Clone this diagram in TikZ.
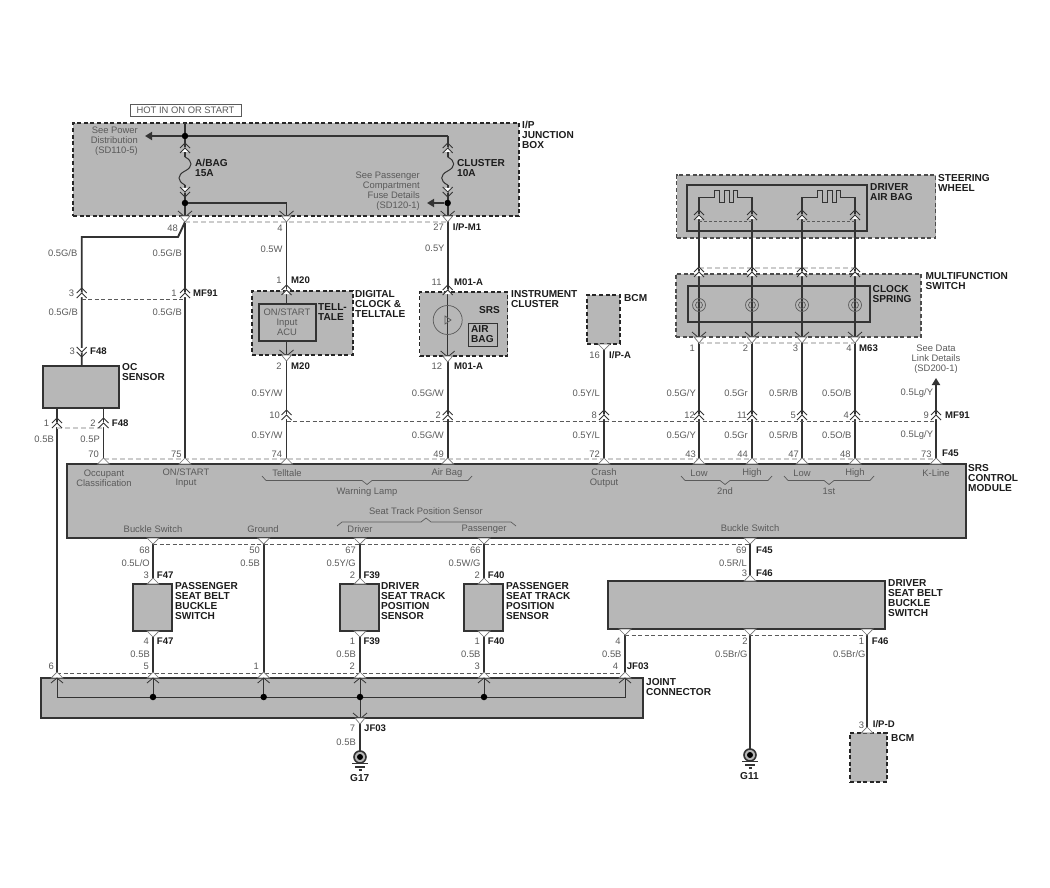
\documentclass[tikz,border=0pt]{standalone}
\usepackage{fontspec}
\setmainfont{Liberation Sans}
\usetikzlibrary{arrows.meta}
\definecolor{unitgrey}{HTML}{B7B7B7}
\definecolor{wiregrey}{HTML}{333333}
\definecolor{textgrey}{HTML}{5A5A5A}
\definecolor{textdark}{HTML}{1C1C1C}
\tikzset{
  wire/.style={draw=wiregrey, line width=1.9pt},
  thinwire/.style={draw=wiregrey, line width=1pt},
  finewire/.style={draw=textgrey, line width=.7pt},
  powerarrow/.style={wire, -{Triangle[length=7pt,width=8pt]}},
  pinlink/.style={draw=textgrey, line width=.9pt, dash pattern=on 4pt off 2.5pt},
  pinshade/.style={draw=black!20, line width=1.8pt, dash pattern=on 5pt off 3pt},
  pinline/.style={draw=wiregrey, line width=.8pt},
  pintab/.style={draw=black!55, fill=white, line width=.7pt},
  unit/.style={draw=wiregrey, fill=unitgrey, line width=1.7pt, inner sep=0pt},
  dashunit/.style={unit, draw=black!85, dash pattern=on 4pt off 2.6pt},
  innerunit/.style={draw=wiregrey, line width=1.5pt, inner sep=0pt},
  splice/.style={circle, fill=black, minimum size=6.5pt, inner sep=0pt},
  plain/.style={inner sep=0pt, text=textgrey, font=\fontsize{9.4}{10}\selectfont},
  rightlabel/.style={plain, anchor=east},
  blocktext/.style={plain, align=center},
  tag/.style={inner sep=0pt, anchor=west, text=textdark, font=\fontsize{9.6}{10}\bfseries\selectfont},
  unitname/.style={inner sep=0pt, anchor=north west, align=left, text=textdark,
    font=\fontsize{10.1}{10.2}\bfseries\selectfont},
  pinup/.pic={
    \fill[white] (-4,4)--(0,-1)--(4,4)--cycle;
    \draw[pinline] (-5,0)--(0,-5)--(5,0);
    \draw[pinline] (-5,5)--(0,0)--(5,5);
  },
  pindown/.pic={
    \fill[white] (-4,-4)--(0,1)--(4,-4)--cycle;
    \draw[pinline] (-5,0)--(0,5)--(5,0);
    \draw[pinline] (-5,-5)--(0,0)--(5,-5);
  },
  socketdown/.pic={
    \draw[pinline] (-7,-5)--(0,1)--(7,-5);
    \draw[pintab] (-5,0)--(5,0)--(0,6)--cycle;
  },
  tabup/.pic={\draw[pintab] (-6,0)--(0,-6)--(6,0)--cycle;},
  tabdown/.pic={\draw[pintab] (-6,0)--(0,6)--(6,0)--cycle;},
  jointpin/.pic={
    \draw[pintab] (-6,0)--(0,-6)--(6,0)--cycle;
    \draw[pinline] (-6,5)--(0,0)--(6,5);
  },
  fuselink/.pic={
    \draw[thinwire] (0,0) .. controls (8,4) and (8,10) .. (0,14) .. controls (-8,18) and (-8,24) .. (0,28);
  },
  squib/.pic={
    \draw[thinwire] (0,0)--(15,0)--(15,-6)--(20,-6)--(20,5)--(25,5)--(25,-6)--(30,-6)--(30,5)--(34,5)--(34,-6)--(38,-6)--(38,0)--(53,0);
  },
  groundmark/.pic={
    \draw[draw=wiregrey, fill=unitgrey, line width=1.6pt] (0,0) circle (6);
    \fill[black] (0,0) circle (3);
    \draw[wiregrey, line width=1.2pt] (-8,6.5)--(8,6.5) (-5,10)--(5,10) (-1.5,13)--(1.5,13);
  }
}
\begin{document}
\begin{tikzpicture}[x=1pt, y=-1pt]
  \useasboundingbox (0,0) rectangle (1050,888);

  \node[draw=textgrey, line width=.8pt, minimum width=111pt, minimum height=12pt, plain] (hotbox) at (185.5,110) {HOT IN ON OR START};
  \node[dashunit, minimum width=446pt, minimum height=93pt] (ipbox) at (296,169.5) {};
  \node[dashunit, minimum width=259pt, minimum height=63pt, draw=black!70] (wheelbox) at (806,206.5) {};
  \node[innerunit, minimum width=180pt, minimum height=46pt] (airbagbox) at (777,208) {};
  \node[dashunit, minimum width=245pt, minimum height=63pt, draw=black!70] (multibox) at (798.5,305.5) {};
  \node[innerunit, minimum width=182pt, minimum height=36pt] (springbox) at (779,304) {};
  \node[dashunit, minimum width=101pt, minimum height=64pt] (clockbox) at (302.5,323) {};
  \node[innerunit, minimum width=57pt, minimum height=37pt] (telltalebox) at (287.5,322.5) {};
  \node[dashunit, minimum width=88pt, minimum height=64pt] (clusterbox) at (463.5,324) {};
  \node[draw=wiregrey, line width=.8pt, minimum width=29pt, minimum height=23pt, inner sep=0pt] (airbagflag) at (482.5,334.5) {};
  \node[dashunit, minimum width=33pt, minimum height=49pt] (bcmbox) at (603.5,319.5) {};
  \node[unit, minimum width=76pt, minimum height=42pt] (ocbox) at (81,387) {};
  \node[unit, minimum width=899pt, minimum height=74pt] (srsbox) at (516.5,501) {};
  \node[unit, minimum width=39pt, minimum height=47pt] (beltpbox) at (152.5,607.5) {};
  \node[unit, minimum width=39pt, minimum height=47pt] (trackdbox) at (359.5,607.5) {};
  \node[unit, minimum width=39pt, minimum height=47pt] (trackpbox) at (483.5,607.5) {};
  \node[unit, minimum width=277pt, minimum height=48pt] (beltdbox) at (746.5,605) {};
  \node[unit, minimum width=602pt, minimum height=40pt] (jointbox) at (342,698) {};
  \node[dashunit, minimum width=37pt, minimum height=49pt] (bcmlowbox) at (868.5,757.5) {};

  \coordinate (feedA) at (185,123);
  \coordinate (fuseAin) at (185,157);
  \coordinate (fuseAout) at (185,185);
  \coordinate (outA) at (185,222);
  \coordinate (arrowA) at (145,136);
  \coordinate (feedB) at (447.7,136);
  \coordinate (fuseBin) at (447.7,157);
  \coordinate (fuseBout) at (447.7,185);
  \coordinate (outB) at (447.7,222);
  \coordinate (arrowB) at (427,203);
  \coordinate (feedC) at (286.5,203);
  \coordinate (outC) at (286.5,222);
  \coordinate (bendA) at (178,237);
  \coordinate (bendB) at (81.7,237);
  \coordinate (ocfeed) at (81.7,366);
  \coordinate (clockin) at (286.5,291);
  \coordinate (tellin) at (286.5,304);
  \coordinate (tellout) at (286.5,341);
  \coordinate (clockout) at (286.5,355);
  \coordinate (clusterin) at (447.7,292);
  \coordinate (clusterout) at (447.7,356);
  \coordinate (bcmout) at (604,344);
  \coordinate (linkA) at (57,408);
  \coordinate (linkAend) at (57,678);
  \coordinate (linkB) at (103.5,408);
  \coordinate (kend) at (936,378);
  \coordinate (jointL) at (57,697);
  \coordinate (jointR) at (625,697);
  \coordinate (jointE) at (625,678);
  \coordinate (gndA) at (360,751);
  \coordinate (gndB) at (750,749);
  \coordinate (jointout) at (360,718);
  \foreach \nm/\xpos in {occ/103.5,onstart/185,tell/286.5,bag/447.7,crash/604,lowb/699,highb/752,lowa/802,higha/855,kline/936}
    \coordinate (\nm srs) at (\xpos,464);
  \foreach \nm/\xpos in {lowb/699,highb/752,lowa/802,higha/855} {
    \coordinate (\nm top) at (\xpos,197);
    \coordinate (\nm out) at (\xpos,337);
  }
  \foreach \nm/\xpos in {beltp/153,ground/263.7,trackd/360,trackp/484,beltd/750}
    \coordinate (\nm low) at (\xpos,538);
  \foreach \nm/\xpos in {beltp/153,trackd/360,trackp/484} {
    \coordinate (\nm in) at (\xpos,584);
    \coordinate (\nm out) at (\xpos,631);
    \coordinate (\nm end) at (\xpos,678);
    \coordinate (\nm dot) at (\xpos,697);
  }
  \coordinate (groundend) at (263.7,678);
  \coordinate (grounddot) at (263.7,697);
  \coordinate (beltdin) at (750,581);
  \coordinate (beltdA) at (625,629);
  \coordinate (beltdB) at (750,629);
  \coordinate (beltdC) at (867,629);
  \coordinate (bcmin) at (867,733);

  \draw[wire] (feedA) -- (fuseAin);
  \draw[wire] (fuseAout) -- (outA);
  \draw[wire] (outA) -- (onstartsrs);
  \draw[wire] (outA) -- (bendA) -- (bendB) -- (ocfeed);
  \draw[wire] (feedB) -- (fuseBin);
  \draw[wire] (fuseBout) -- (outB) -- (clusterin);
  \draw[wire] (feedC) -- (outC) -- (clockin) -- (tellin);
  \draw[wire] (tellout) -- (tellsrs);
  \draw[thinwire] (clusterin) -- (clusterout);
  \draw[wire] (clusterout) -- (bagsrs);
  \draw[wire] (bcmout) -- (crashsrs);
  \draw[wire] (linkA) -- (linkAend);
  \draw[wire] (linkB) -- (occsrs);
  \draw[powerarrow] (klinesrs) -- (kend);
  \foreach \nm in {lowb,highb,lowa,higha} {
    \draw[wire] (\nm top) -- (\nm srs);
  }
  \foreach \nm in {beltp,trackd,trackp} {
    \draw[wire] (\nm low) -- (\nm in);
    \draw[wire] (\nm out) -- (\nm end);
    \draw[thinwire] (\nm end) -- (\nm dot);
  }
  \draw[wire] (groundlow) -- (groundend);
  \draw[thinwire] (groundend) -- (grounddot);
  \draw[wire] (beltdlow) -- (beltdin);
  \draw[wire] (beltdA) -- (jointE);
  \draw[wire] (beltdB) -- (gndB);
  \draw[wire] (beltdC) -- (bcmin);
  \draw[thinwire] (linkAend) -- (jointL) -- (jointR) -- (jointE);
  \draw[thinwire] (trackddot) -- (jointout);
  \draw[wire] (jointout) -- (gndA);

  \node[splice] (dotsplit) at (185,136) {};
  \node[splice] (dotA) at (185,203) {};
  \node[splice] (dotB) at (447.7,203) {};
  \node[splice] (dotbelt) at (153,697) {};
  \node[splice] (dotground) at (263.7,697) {};
  \node[splice] (dottrackd) at (360,697) {};
  \node[splice] (dottrackp) at (484,697) {};
  \draw[powerarrow] (dotsplit) -- (arrowA);
  \draw[wire] (dotsplit) -- (feedB);
  \draw[wire] (dotA) -- (dotA -| feedC) -- (feedC);
  \draw[powerarrow] (dotB) -- (arrowB);

  \pic at (fuseAin) {fuselink};
  \pic at (fuseBin) {fuselink};
  \pic at (699,197) {squib};
  \pic at (802,197) {squib};
  \foreach \xpos in {699,752,802,855}
    \draw[finewire] (\xpos,305) circle (6.5) (\xpos,305) circle (3.5);
  \draw[finewire] (447.7,320) circle (14.5);
  \draw[finewire] (445,316)--(445,324)--(451,320)--cycle;

  \draw[pinshade] (185,222) -- (447.7,222);
  \draw[pinlink] (81.7,299) -- (185,299);
  \draw[pinshade] (57,428) -- (103.5,428);
  \draw[pinshade] (103.5,459) -- (936,459);
  \draw[pinlink] (286.5,421) -- (936,421);
  \draw[finewire, dash pattern=on 3pt off 2pt] (699,221) -- (752,221) (802,221) -- (855,221);
  \draw[pinshade, line width=1.4pt] (699,268) -- (855,268);
  \draw[pinshade, line width=1.4pt] (699,343) -- (855,343);
  \draw[pinlink] (153,544) -- (750,544);
  \draw[pinlink] (625,635) -- (867,635);
  \draw[pinlink] (57,673) -- (625,673);

  \foreach \xpos/\ypos in {81.7/293,185/293,286.5/290,447.7/290,185/148,447.7/148,57/423,103.5/423,
      286.5/415,447.7/415,604/415,699/415,752/415,802/415,855/415,936/415,
      699/215,752/215,802/215,855/215,699/272,752/272,802/272,855/272}
    \pic at (\xpos,\ypos) {pinup};
  \foreach \xpos/\ypos in {185/192,447.7/192,81.7/352}
    \pic at (\xpos,\ypos) {pindown};
  \foreach \xpos/\ypos in {185/216,286.5/216,447.7/216,286.5/355,447.7/356,699/337,752/337,802/337,855/337,360/718}
    \pic at (\xpos,\ypos) {socketdown};
  \foreach \xpos/\ypos in {103.5/464,185/464,286.5/464,447.7/464,604/464,699/464,752/464,802/464,855/464,936/464,
      153/584,360/584,484/584,750/581,867/733}
    \pic at (\xpos,\ypos) {tabup};
  \foreach \xpos/\ypos in {153/538,263.7/538,360/538,484/538,750/538,153/631,360/631,484/631,625/629,750/629,867/629,604/344}
    \pic at (\xpos,\ypos) {tabdown};
  \foreach \xpos in {57,153,263.7,360,484,625}
    \pic at (\xpos,678) {jointpin};
  \pic at (gndA) [yshift=-6pt] {groundmark};
  \pic at (gndB) [yshift=-6pt] {groundmark};

  \draw[finewire] (262,476)--(266,480.5)--(362,480.5)--(367,484.5)--(372,480.5)--(468,480.5)--(472,476);
  \draw[finewire] (681,476)--(685,480.5)--(720,480.5)--(725,484.5)--(730,480.5)--(768,480.5)--(772,476);
  \draw[finewire] (784,476)--(788,480.5)--(824,480.5)--(829,484.5)--(834,480.5)--(870,480.5)--(874,476);
  \draw[finewire] (337,526)--(342,522)--(421,522)--(426,518)--(431,522)--(511,522)--(516,526);

  \foreach \xpos/\ypos/\txt [count=\i] in {178/228/48,282.7/228/4,281.7/280/1,444/227/27,441.7/282/11,
      74.3/293/3,176.7/293/1,75/351/3,49.3/423/1,95.7/423/2,99/454/70,181.7/454/75,282.3/454/74,
      281.7/366/2,280/415/10,442.3/366/12,441/415/2,444/454/49,600/355/16,597/415/8,600/454/72,
      695/348/1,748.3/348/2,798.3/348/3,851.7/348/4,695/415/12,747/415/11,796/415/5,849/415/4,929/415/9,
      696/454/43,748/454/44,799/454/47,850.7/454/48,931.7/454/73,
      150/550/68,260/550/50,356/550/67,480.7/550/66,746.7/550/69,
      149/575/3,355.3/575/2,480/575/2,747.3/573/3,149/641/4,355.3/641/1,480/641/1,
      149/666/5,259/666/1,355/666/2,480/666/3,618.3/666/4,54/666/6,
      620.7/641/4,747.7/641/2,864.3/641/1,355.3/728/7,864.3/725/3}
    \node[rightlabel] (pinno\i) at (\xpos,\ypos) {\txt};

  \foreach \xpos/\ypos/\txt [count=\i] in {77.5/253/{0.5G/B},182/253/{0.5G/B},78/312/{0.5G/B},182/312/{0.5G/B},
      282.7/249/{0.5W},444.7/248/{0.5Y},54/439/{0.5B},100/439/{0.5P},
      282.7/393/{0.5Y/W},282.7/435/{0.5Y/W},444/393/{0.5G/W},444/435/{0.5G/W},600/393/{0.5Y/L},600/435/{0.5Y/L},
      696/393/{0.5G/Y},696/435/{0.5G/Y},748/393/{0.5Gr},748/435/{0.5Gr},798/393/{0.5R/B},798/435/{0.5R/B},
      851.7/393/{0.5O/B},851.7/435/{0.5O/B},933.3/393/{0.5Lg/Y},933.3/435/{0.5Lg/Y},
      150/563/{0.5L/O},260/563/{0.5B},356/563/{0.5Y/G},480.7/563/{0.5W/G},747/563/{0.5R/L},
      150/654/{0.5B},356/654/{0.5B},480.7/654/{0.5B},621.7/654/{0.5B},747.7/654/{0.5Br/G},865.7/654/{0.5Br/G},356/742/{0.5B}}
    \node[rightlabel] (gauge\i) at (\xpos,\ypos) {\txt};

  \foreach \xpos/\ypos/\txt [count=\i] in {193/293/MF91,291/280/M20,291/366/M20,452.7/227/{I/P-M1},
      454/282/M01-A,454/366/M01-A,609/355/{I/P-A},90/351/F48,111.7/423/F48,945/415/MF91,942/453/F45,859/348/M63,
      156.7/575/F47,156.7/641/F47,363.3/575/F39,363.3/641/F39,487.7/575/F40,487.7/641/F40,
      756/550/F45,756/573/F46,871.7/641/F46,626.7/666/JF03,364/728/JF03,872.7/724/{I/P-D}}
    \node[tag] (conn\i) at (\xpos,\ypos) {\txt};

  \foreach \xpos/\ypos/\txt [count=\i] in {104/478/{Occupant\\Classification},186/478/{ON/START\\Input},287/473/Telltale,
      447/473/{Air Bag},367/492/{Warning Lamp},604/478/{Crash\\Output},699/473/Low,752/473/High,802/473/Low,855/473/High,
      936/473/K-Line,725/491/2nd,829/491/1st,426/511/{Seat Track Position Sensor},360/529/Driver,484/529/Passenger,
      153/529/{Buckle Switch},263/529/Ground,750/528/{Buckle Switch},287/322/{ON/START\\Input\\ACU},
      936/359/{See Data\\Link Details\\(SD200-1)}}
    \node[blocktext] (func\i) at (\xpos,\ypos) {\txt};

  \node[plain, align=right, anchor=north east] (notepower) at (138,127) {See Power\\Distribution\\(SD110-5)};
  \node[plain, align=right, anchor=north east] (notefuse) at (420,172) {See Passenger\\Compartment\\Fuse Details\\(SD120-1)};

  \foreach \xpos/\ypos/\txt [count=\i] in {195/159/{A/BAG\\15A},457/159/{CLUSTER\\10A},522/121/{I/P\\JUNCTION\\BOX},
      870/183/{DRIVER\\AIR BAG},938/174/{STEERING\\WHEEL},925.5/272/{MULTIFUNCTION\\SWITCH},872.5/285/{CLOCK\\SPRING},
      318/303/{TELL-\\TALE},355/290/{DIGITAL\\CLOCK \&\\TELLTALE},471/325.5/{AIR\\BAG},479/306/{SRS},511/290/{INSTRUMENT\\CLUSTER},624/294/{BCM},
      122/363/{OC\\SENSOR},968/464/{SRS\\CONTROL\\MODULE},175/582/{PASSENGER\\SEAT BELT\\BUCKLE\\SWITCH},
      381/582/{DRIVER\\SEAT TRACK\\POSITION\\SENSOR},506/582/{PASSENGER\\SEAT TRACK\\POSITION\\SENSOR},
      888/579/{DRIVER\\SEAT BELT\\BUCKLE\\SWITCH},646/678/{JOINT\\CONNECTOR},891/734/{BCM},
      350/774/{G17},740/772/{G11}}
    \node[unitname] (name\i) at (\xpos,\ypos) {\txt};
\end{tikzpicture}
\end{document}
